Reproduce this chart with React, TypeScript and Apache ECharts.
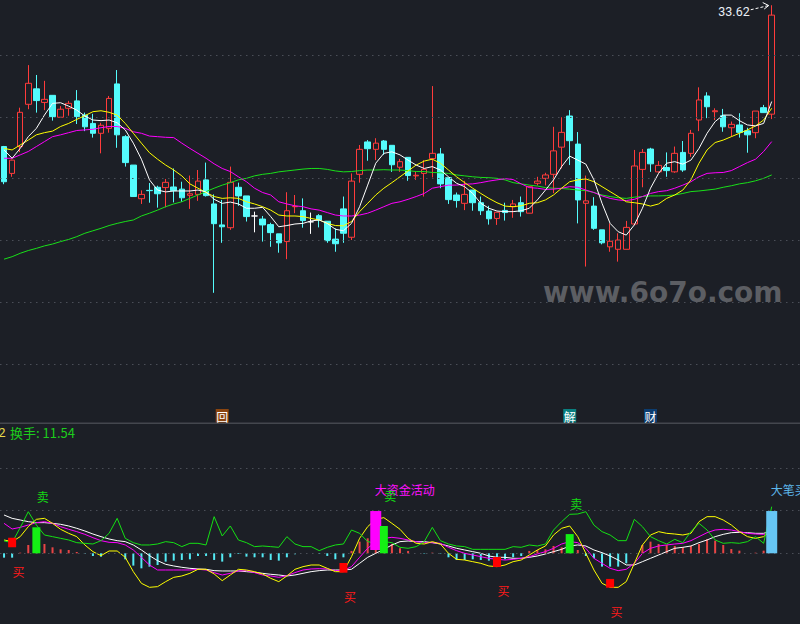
import React, { useEffect, useRef } from 'react';
import * as echarts from 'echarts';

// ---------- data ----------
const categories = Array.from({ length: 99 }, (_, i) => `${i + 1}`);

// [open, close, low, high]
const ohlc = [
  [29.04, 27.90, 27.82, 29.06], [28.17, 28.60, 28.06, 28.62], [29.04, 30.15, 28.86, 30.30], [30.41, 31.09, 30.25, 31.68],
  [30.91, 30.53, 30.14, 31.36], [30.47, 30.57, 30.22, 31.17], [30.70, 30.01, 29.88, 30.70], [29.99, 30.25, 29.99, 30.35],
  [30.28, 30.44, 30.04, 30.52], [30.52, 30.01, 29.77, 30.87], [30.06, 29.68, 29.54, 30.14], [29.79, 29.47, 29.33, 30.10],
  [29.47, 29.73, 28.82, 29.81], [29.63, 30.60, 29.49, 30.68], [31.07, 29.42, 29.00, 31.52], [29.36, 28.52, 28.39, 29.41],
  [28.44, 27.42, 27.42, 28.44], [27.35, 27.49, 27.18, 27.62], [27.62, 27.61, 27.22, 27.86], [27.72, 27.51, 27.06, 27.77],
  [27.71, 27.88, 27.07, 27.99], [27.73, 27.61, 27.23, 28.33], [27.66, 27.38, 27.25, 27.90], [27.46, 27.51, 27.02, 28.10],
  [27.49, 27.92, 27.28, 28.28], [27.96, 27.45, 27.42, 28.52], [27.18, 26.54, 24.30, 27.49], [26.50, 26.44, 25.92, 27.31],
  [26.41, 27.88, 26.34, 28.39], [27.72, 27.44, 27.12, 27.87], [27.44, 26.77, 26.61, 27.44], [26.79, 26.79, 26.26, 26.93],
  [26.69, 26.50, 25.96, 26.79], [26.51, 26.25, 25.79, 26.57], [26.21, 25.92, 25.60, 26.21], [25.96, 26.96, 25.39, 27.56],
  [27.09, 27.10, 26.88, 27.47], [26.96, 26.64, 26.41, 27.36], [26.60, 26.60, 26.21, 26.90], [26.80, 26.66, 26.42, 26.85],
  [26.62, 25.99, 25.92, 26.62], [26.04, 25.89, 25.63, 26.39], [27.02, 26.23, 25.92, 27.42], [26.10, 27.92, 26.01, 28.17],
  [28.14, 28.95, 27.87, 29.09], [29.19, 28.97, 28.58, 29.25], [28.95, 29.15, 28.60, 29.31], [29.22, 28.95, 28.77, 29.25],
  [29.08, 28.45, 28.22, 29.08], [28.37, 28.55, 28.22, 28.64], [28.69, 28.10, 27.93, 28.69], [28.09, 28.11, 27.96, 28.22],
  [28.17, 28.30, 27.42, 28.60], [28.65, 28.82, 28.04, 31.00], [28.80, 27.83, 27.69, 28.99], [28.03, 27.32, 27.18, 28.03],
  [27.47, 27.29, 27.06, 27.55], [27.20, 27.49, 26.98, 27.93], [27.63, 27.22, 26.96, 27.63], [27.22, 26.96, 26.82, 27.42],
  [26.95, 26.70, 26.51, 27.12], [26.71, 26.91, 26.50, 26.91], [26.97, 26.90, 26.64, 27.22], [27.09, 27.18, 26.73, 27.31],
  [27.22, 26.93, 26.77, 27.42], [26.88, 27.74, 26.88, 27.76], [27.85, 27.92, 27.78, 28.06], [28.01, 28.12, 27.78, 28.19],
  [28.14, 28.90, 27.53, 29.68], [29.02, 29.50, 28.33, 29.99], [30.03, 29.23, 28.44, 30.22], [29.12, 27.31, 26.55, 29.51],
  [27.20, 27.28, 25.15, 28.10], [27.11, 26.39, 26.34, 27.40], [26.34, 25.92, 25.87, 26.34], [25.79, 25.97, 25.63, 26.55],
  [25.71, 26.01, 25.31, 26.23], [25.71, 26.42, 25.71, 26.63], [26.53, 28.41, 26.49, 28.93], [28.30, 28.85, 27.72, 28.96],
  [28.96, 28.48, 28.22, 29.00], [28.22, 28.43, 28.19, 28.57], [28.36, 28.26, 28.06, 28.85], [28.22, 28.82, 28.19, 29.04],
  [28.85, 28.28, 28.22, 29.22], [28.82, 29.47, 28.71, 29.58], [29.90, 30.55, 29.54, 30.96], [30.68, 30.33, 29.96, 30.80],
  [30.17, 30.20, 29.90, 30.28], [30.04, 29.68, 29.52, 30.26], [29.65, 29.76, 29.36, 29.85], [29.74, 29.50, 29.33, 30.12],
  [29.55, 29.42, 28.84, 29.65], [29.49, 30.19, 29.31, 30.19], [30.30, 30.14, 30.14, 30.39], [30.09, 33.30, 29.93, 33.62],
];

const ma5 = [
  28.93, 28.66, 28.98, 29.36, 29.63, 30.06, 30.44, 30.46, 30.35, 30.22,
  30.03, 29.90, 29.88, 29.90, 29.81, 29.58, 29.15, 28.63, 27.96, 27.63,
  27.57, 27.60, 27.60, 27.60, 27.63, 27.57, 27.33, 27.20, 27.24, 27.18,
  27.04, 27.04, 27.07, 26.77, 26.44, 26.48, 26.53, 26.55, 26.63, 26.66,
  26.55, 26.36, 26.31, 26.55, 27.09, 27.79, 28.50, 28.82, 28.87, 28.77,
  28.60, 28.44, 28.33, 28.39, 28.28, 28.06, 27.85, 27.74, 27.52, 27.20,
  27.04, 26.95, 26.93, 26.93, 26.96, 27.04, 27.31, 27.63, 27.96, 28.39,
  28.73, 28.60, 28.47, 27.96, 27.20, 26.55, 26.28, 26.17, 26.50, 27.04,
  27.69, 28.17, 28.50, 28.55, 28.47, 28.60, 28.98, 29.47, 29.85, 30.06,
  30.06, 29.88, 29.74, 29.71, 29.79, 30.50,
];
const ma10 = [
  28.98, 28.93, 29.09, 29.25, 29.42, 29.49, 29.54, 29.69, 29.79, 29.92,
  30.04, 30.17, 30.20, 30.15, 30.06, 29.79, 29.47, 29.15, 28.84, 28.63,
  28.44, 28.28, 28.09, 27.83, 27.69, 27.55, 27.42, 27.36, 27.38, 27.36,
  27.25, 27.18, 27.09, 26.98, 26.82, 26.79, 26.79, 26.77, 26.71, 26.66,
  26.55, 26.48, 26.47, 26.61, 26.93, 27.20, 27.47, 27.69, 27.87, 28.06,
  28.25, 28.44, 28.57, 28.63, 28.50, 28.28, 28.06, 27.87, 27.69, 27.52,
  27.36, 27.22, 27.11, 27.09, 27.12, 27.20, 27.22, 27.31, 27.47, 27.69,
  27.90, 27.96, 27.99, 27.90, 27.74, 27.58, 27.42, 27.25, 27.22, 27.18,
  27.11, 27.18, 27.36, 27.47, 27.63, 27.96, 28.50, 28.93, 29.17, 29.25,
  29.36, 29.47, 29.58, 29.71, 29.90, 30.28,
];
const ma20 = [
  28.66, 28.66, 28.77, 28.88, 29.04, 29.20, 29.36, 29.42, 29.49, 29.56,
  29.58, 29.60, 29.65, 29.69, 29.69, 29.63, 29.52, 29.47, 29.38, 29.36,
  29.34, 29.33, 29.15, 28.98, 28.82, 28.66, 28.48, 28.33, 28.23, 28.06,
  27.90, 27.69, 27.55, 27.47, 27.25, 27.18, 27.12, 27.09, 27.02, 26.98,
  26.90, 26.82, 26.79, 26.79, 26.82, 26.88, 26.98, 27.09, 27.20, 27.25,
  27.33, 27.42, 27.52, 27.69, 27.74, 27.79, 27.79, 27.82, 27.83, 27.87,
  27.92, 27.96, 28.00, 27.97, 27.83, 27.71, 27.69, 27.65, 27.66, 27.69,
  27.74, 27.72, 27.63, 27.55, 27.44, 27.36, 27.31, 27.29, 27.33, 27.42,
  27.52, 27.58, 27.61, 27.69, 27.79, 27.90, 28.06, 28.17, 28.19, 28.20,
  28.26, 28.39, 28.52, 28.63, 28.88, 29.20,
];
const ma60 = [
  25.39, 25.47, 25.58, 25.67, 25.74, 25.82, 25.88, 25.96, 26.03, 26.12,
  26.23, 26.31, 26.39, 26.48, 26.55, 26.61, 26.66, 26.79, 26.88, 26.98,
  27.09, 27.18, 27.25, 27.36, 27.47, 27.58, 27.69, 27.79, 27.87, 27.96,
  28.01, 28.09, 28.14, 28.17, 28.22, 28.25, 28.28, 28.31, 28.33, 28.33,
  28.30, 28.25, 28.22, 28.23, 28.26, 28.28, 28.28, 28.29, 28.28, 28.28,
  28.26, 28.23, 28.23, 28.20, 28.19, 28.17, 28.12, 28.09, 28.06, 28.04,
  28.03, 28.01, 27.96, 27.87, 27.83, 27.79, 27.76, 27.71, 27.69, 27.68,
  27.66, 27.63, 27.61, 27.55, 27.47, 27.42, 27.38, 27.36, 27.40, 27.42,
  27.44, 27.44, 27.45, 27.47, 27.52, 27.58, 27.60, 27.63, 27.66, 27.72,
  27.77, 27.83, 27.87, 27.93, 28.01, 28.12,
];
const priceGridLevels = [32, 30, 28, 26, 24, 22];

// indicator panel
const indWhite = [
  8.97, 8.19, 7.80, 7.41, 7.18, 7.18, 7.02, 6.79, 6.40, 5.85,
  5.23, 4.52, 3.90, 3.35, 2.96, 2.73, 1.95, 0.78, -0.55, -1.72,
  -2.58, -2.97, -3.28, -3.52, -3.67, -3.75, -4.06, -4.14, -4.14, -4.14,
  -4.30, -4.45, -4.69, -4.92, -5.08, -5.31, -5.08, -4.69, -4.30, -4.06,
  -3.91, -3.91, -3.91, -3.75, -2.35, -0.94, 0.00, 0.93, 1.95, 2.73,
  2.88, 2.73, 2.73, 2.49, 2.18, 1.71, 1.17, 0.78, 0.39, 0.00,
  -0.63, -0.94, -0.94, -1.18, -1.18, -0.94, -0.63, -0.16, 0.39, 0.93,
  1.71, 1.95, 1.71, 0.78, 0.15, -0.63, -1.57, -2.74, -2.74, -1.96,
  -1.18, -0.40, 0.39, 1.17, 1.40, 1.71, 2.49, 3.12, 3.90, 4.44,
  4.83, 4.91, 4.83, 4.68, 4.68, 5.30,
];
const indMagenta = [
  7.02, 5.69, 6.08, 6.63, 7.18, 7.41, 7.02, 6.24, 5.62, 5.07,
  4.44, 3.66, 2.96, 2.57, 2.49, 1.95, 0.78, -0.94, -2.74, -3.91,
  -3.91, -3.91, -3.91, -3.91, -3.75, -3.91, -4.53, -5.08, -4.69, -4.14,
  -4.06, -4.53, -5.08, -5.31, -5.63, -5.24, -4.53, -3.91, -3.67, -3.60,
  -3.67, -4.06, -4.06, -3.13, -0.94, 1.17, 2.73, 3.51, 3.74, 3.51,
  3.12, 2.73, 2.49, 2.49, 2.34, 1.40, 0.62, -0.01, -0.40, -0.79,
  -1.18, -1.41, -1.57, -1.41, -1.18, -0.79, -0.16, 0.39, 1.17, 2.18,
  2.73, 2.49, 1.17, -1.18, -2.35, -3.52, -4.06, -3.75, -2.35, -0.01,
  1.17, 1.71, 1.95, 2.18, 2.34, 2.96, 3.90, 4.83, 5.46, 5.62,
  5.46, 5.07, 4.68, 4.52, 4.44, 4.83,
];
const indYellow = [
  3.12, 2.73, 3.90, 6.24, 7.96, 8.19, 7.02, 5.62, 4.68, 3.90,
  1.95, 0.39, -0.55, 0.54, 0.54, -0.94, -4.30, -7.03, -7.97, -7.81,
  -6.64, -5.63, -5.31, -4.69, -3.75, -3.75, -4.84, -6.41, -5.08, -3.75,
  -3.91, -4.30, -4.84, -5.86, -6.64, -5.31, -3.75, -3.13, -2.74, -2.74,
  -3.52, -4.30, -4.30, -0.79, 3.51, 6.24, 7.96, 8.35, 7.02, 5.62,
  3.51, 2.34, 2.18, 2.73, 2.18, -0.01, -1.41, -1.57, -1.96, -2.35,
  -2.97, -3.13, -2.74, -1.96, -1.57, -0.40, 0.78, 1.71, 4.29, 5.85,
  6.40, 3.90, -0.01, -3.91, -7.03, -7.97, -7.97, -6.64, -2.35, 1.95,
  4.29, 5.07, 4.68, 4.52, 4.29, 4.68, 7.41, 8.58, 8.58, 7.80,
  6.63, 5.07, 3.90, 3.51, 3.90, 5.46,
];
const indGreen = [
  2.90, 2.50, 6.00, 9.75, 6.63, 4.29, 3.90, 3.51, 3.12, 2.49,
  2.34, 2.18, 2.96, 4.68, 8.19, 3.51, 2.49, 1.95, 1.95, 2.18,
  2.73, 2.49, 1.56, 2.34, 2.34, 1.95, 8.58, 4.05, 6.40, 3.12,
  2.49, 1.56, 1.71, 1.56, 1.40, 3.90, 2.18, 1.56, 1.56, 0.62,
  1.40, 1.95, 2.18, 5.46, 4.68, 2.73, 2.34, 2.73, 2.49, 1.40,
  1.17, 1.56, 2.73, 6.08, 2.96, 2.18, 1.71, 1.56, 0.93, 0.93,
  0.93, 0.93, 0.93, 1.56, 1.40, 1.95, 1.71, 2.18, 5.46, 7.41,
  9.13, 9.21, 9.75, 6.60, 5.07, 4.29, 2.96, 2.96, 7.96, 6.24,
  3.90, 2.96, 2.18, 3.27, 2.49, 5.07, 7.02, 5.46, 3.12, 2.34,
  2.49, 2.34, 2.73, 3.90, 2.34, 10.92,
];
const indHist = [
  -1.02, -1.02, 0.15, 1.95, 2.50, 2.18, 1.40, 0.93, 0.78, 0.31,
  -0.16, -0.63, -0.79, 0, 0, -1.41, -2.89, -3.52, -3.13, -2.74,
  -1.96, -1.72, -1.56, -1.41, -0.63, -0.62, -1.56, -1.95, -0.94, -0.16,
  -0.78, -0.94, -0.94, -1.56, -1.72, -0.94, -0.23, 0, 0, -0.16,
  -0.62, -1.40, -0.94, 0.55, 2.73, 3.51, 3.00, 2.60, 2.18, 1.17,
  0.55, 0, -0.10, 0.15, -0.10, -0.94, -1.56, -1.56, -1.41, -1.56,
  -1.72, -1.80, -1.41, -0.94, -0.63, 0.55, 0.78, 0.93, 1.72, 1.40,
  1.20, 0.78, -0.63, -1.17, -3.12, -3.12, -3.12, -2.34, 0, 1.95,
  2.73, 2.18, 1.95, 1.72, 1.40, 1.72, 2.18, 3.28, 2.96, 1.95,
  1.00, 0.62, 0, 0.15, 0.62, 0,
];
const indGridLevels = [20, 10, 0];

// signals: [index, top value, bottom value]
const buySignals = [[1, 3.65, 1.41], [42, -2.27, -4.54], [61, -0.87, -3.2], [75, -6.0, -8.05]];
const sellSignals = [[4, 6.09, 0], [47, 6.4, 0], [70, 4.5, 0]];
const fundSignals = [[46, 9.9, 0.77]];
const bigOrderSignals = [[95, 9.9, 0]];

const eventIdx = [27, 70, 80];
const eventText = ['回', '解', '财'];
const eventColor = ['#8a4510', '#0b7f80', '#0c3d70'];

const highMark = [[95, 33.62]];
const turnover = '11.54';

const BG = '#1c1f26';
const CJK = '"Noto Sans CJK SC", sans-serif';

function signalSeries(data: number[][], opts: { color: string; width: number; text: string; textColor: string; textPos: 'below' | 'above' | 'aboveBig'; }) {
  return {
    type: 'custom',
    xAxisIndex: 1,
    yAxisIndex: 1,
    clip: false,
    z: 10,
    silent: true,
    data,
    renderItem: (_p: any, api: any) => {
      const i = api.value(0);
      const t = api.coord([i, api.value(1)]);
      const b = api.coord([i, api.value(2)]);
      const w = opts.width;
      let tx = t[0] + 0.5;
      let ty = b[1] + 24;
      if (opts.textPos === 'above') ty = t[1] - 30.5;
      if (opts.textPos === 'aboveBig') { tx = t[0] - 1; ty = t[1] - 21.5; }
      return {
        type: 'group',
        children: [
          { type: 'rect', shape: { x: t[0] - w / 2, y: t[1], width: w, height: b[1] - t[1] }, style: { fill: opts.color } },
          {
            type: 'text', x: tx, y: ty,
            style: { text: opts.text, fill: opts.textColor, fontSize: 12, fontFamily: CJK, align: 'left', verticalAlign: 'middle' },
          },
        ],
      };
    },
  };
}

export default function App() {
  const ref = useRef<HTMLDivElement>(null);

  useEffect(() => {
    document.body.style.margin = '0';
    document.body.style.background = BG;
    const chart = echarts.init(ref.current!, undefined, { renderer: 'svg' });

    const mkLine = (data: number[], color: string, xi: number, extra: any = {}) => ({
      type: 'line', xAxisIndex: xi, yAxisIndex: xi, data, symbol: 'none', showSymbol: false,
      lineStyle: { color, width: 1 }, silent: true, z: 3, ...extra,
    });

    const option: any = {
      animation: false,
      backgroundColor: BG,
      grid: [
        { left: 0, top: 0, width: 803, height: 423 },
        { left: 0, top: 423, width: 803, height: 201 },
      ],
      xAxis: [
        { type: 'category', gridIndex: 0, data: categories, show: false, boundaryGap: true },
        { type: 'category', gridIndex: 1, data: categories, show: false, boundaryGap: true },
      ],
      yAxis: [
        { type: 'value', gridIndex: 0, min: 20.08, max: 33.79, show: false, splitLine: { show: false } },
        { type: 'value', gridIndex: 1, min: -16.56, max: 30.52, show: false, splitLine: { show: false } },
      ],
      series: [
        {
          type: 'candlestick', xAxisIndex: 0, yAxisIndex: 0, data: ohlc, barWidth: 6, silent: true, z: 2,
          itemStyle: {
            color: 'rgba(0,0,0,0)', color0: '#54fcfc',
            borderColor: '#ff3b3b', borderColor0: '#54fcfc', borderColorDoji: '#ffffff', borderWidth: 1,
          },
        },
        mkLine(ma60, '#19e019', 0, {
          markLine: {
            silent: true, symbol: ['none', 'none'], label: { show: false },
            lineStyle: { color: '#4a4e57', type: [1.5, 4.5], width: 1 },
            data: priceGridLevels.map((v) => ({ yAxis: v })),
          },
        }),
        mkLine(ma20, '#ff00ff', 0),
        mkLine(ma10, '#ffff00', 0),
        mkLine(ma5, '#ffffff', 0),
        {
          type: 'bar', xAxisIndex: 1, yAxisIndex: 1, barWidth: 2, silent: true, z: 2,
          data: indHist.map((v) => ({ value: v, itemStyle: { color: v >= 0 ? '#e84545' : '#54eaf4' } })),
          markLine: {
            silent: true, symbol: ['none', 'none'], label: { show: false },
            lineStyle: { color: '#4a4e57', type: [1.5, 4.5], width: 1 },
            data: indGridLevels.map((v) => ({ yAxis: v })),
          },
        },
        mkLine(indWhite, '#ffffff', 1),
        mkLine(indMagenta, '#ff00ff', 1),
        mkLine(indYellow, '#ffff00', 1),
        mkLine(indGreen, '#14e014', 1),
        signalSeries(fundSignals, { color: '#ff00ff', width: 11, text: '大资金活动', textColor: '#ff10ff', textPos: 'aboveBig' }),
        signalSeries(bigOrderSignals, { color: '#66c6f4', width: 11, text: '大笔买入', textColor: '#5cb6ea', textPos: 'aboveBig' }),
        signalSeries(sellSignals, { color: '#14f014', width: 8, text: '卖', textColor: '#14d814', textPos: 'above' }),
        signalSeries(buySignals, { color: '#ff0000', width: 8, text: '买', textColor: '#ff1a1a', textPos: 'below' }),
        {
          type: 'custom', xAxisIndex: 0, yAxisIndex: 0, clip: false, silent: true, z: 10,
          data: eventIdx.map((i) => [i]),
          renderItem: (p: any, api: any) => {
            const x = api.coord([api.value(0), 25])[0];
            const k = p.dataIndex;
            return {
              type: 'group',
              children: [
                { type: 'rect', shape: { x: x - 6.5, y: 409, width: 13, height: 13.5 }, style: { fill: eventColor[k] } },
                { type: 'text', x, y: 416, style: { text: eventText[k], fill: '#ffffff', fontSize: 12, fontFamily: CJK, align: 'center', verticalAlign: 'middle' } },
              ],
            };
          },
        },
        {
          type: 'custom', xAxisIndex: 0, yAxisIndex: 0, clip: false, silent: true, z: 10,
          data: highMark,
          renderItem: (_p: any, api: any) => {
            const pt = api.coord([api.value(0), api.value(1)]);
            const tipX = pt[0] - 3;
            const tipY = pt[1] + 0.3;
            return {
              type: 'group',
              children: [
                { type: 'text', x: pt[0] - 22, y: pt[1] + 6, style: { text: String(api.value(1)), fill: '#e8eef5', fontSize: 12.5, fontFamily: 'Roboto, sans-serif', align: 'right', verticalAlign: 'middle' } },
                { type: 'line', shape: { x1: pt[0] - 21, y1: pt[1] + 4.5, x2: tipX, y2: tipY }, style: { stroke: '#ffffff', lineWidth: 1, lineDash: [3, 2] } },
                { type: 'polyline', shape: { points: [[tipX - 6, tipY - 3], [tipX, tipY], [tipX - 4.5, tipY + 3.5]] }, style: { stroke: '#ffffff', lineWidth: 1, fill: 'none' } },
              ],
            };
          },
        },
      ],
      graphic: [
        { type: 'rect', left: 0, top: 422.5, shape: { width: 800, height: 1.5 }, style: { fill: '#44474e' }, silent: true },
        { type: 'text', x: 5.5, y: 432, style: { text: '2', fill: '#e6d84a', fontSize: 13, fontFamily: 'Roboto, sans-serif', align: 'right', verticalAlign: 'middle' }, silent: true },
        { type: 'text', x: 10, y: 432, style: { text: `换手: ${turnover}`, fill: '#1ccc1c', fontSize: 13, fontFamily: CJK, align: 'left', verticalAlign: 'middle' }, silent: true },
        { type: 'text', x: 543, y: 292, z: 0, style: { text: 'www.6o7o.com', fill: '#5c5e63', fontSize: 28, fontWeight: 'bold', fontFamily: '"DejaVu Sans", sans-serif', align: 'left', verticalAlign: 'middle' }, silent: true },
      ],
    };

    chart.setOption(option);
    return () => chart.dispose();
  }, []);

  return <div ref={ref} style={{ position: 'fixed', left: 0, top: 0, width: 800, height: 624 }} />;
}
